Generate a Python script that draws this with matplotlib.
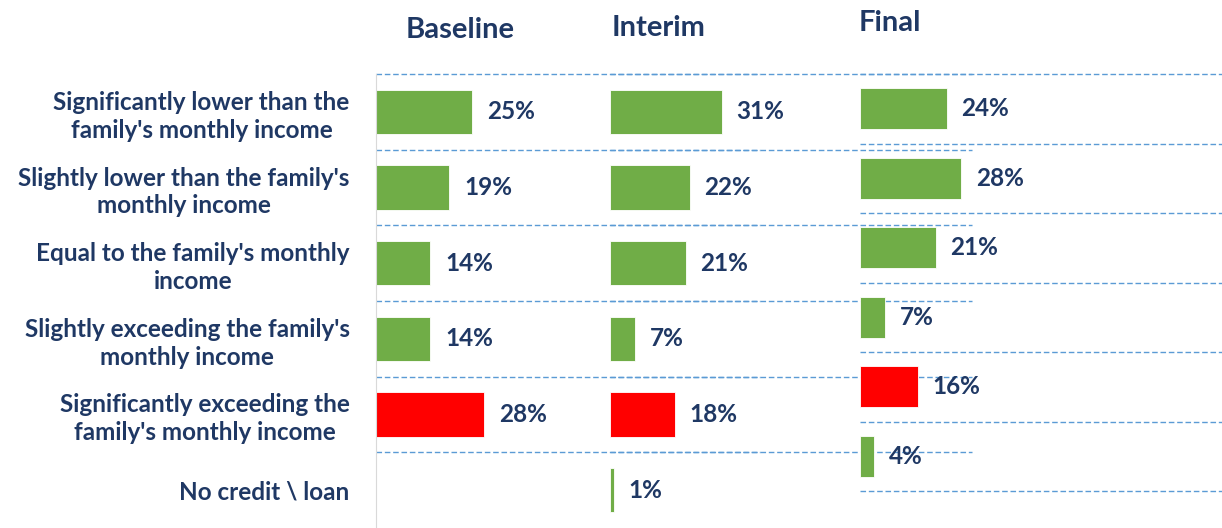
import numpy as np
import matplotlib.pyplot as plt

# Категорії та значення (у відсотках)
CATEGORIES = [
    "Significantly lower than the\nfamily's monthly income",
    "Slightly lower than the family's\nmonthly income",
    "Equal to the family's monthly\nincome",
    "Slightly exceeding the family's\nmonthly income",
    "Significantly exceeding the\nfamily's monthly income",
    "No credit \\ loan",
]
BASELINE = [25, 19, 14, 14, 28, np.nan]
INTERIM = [31, 22, 21, 7, 18, 1]
FINAL = [24, 28, 21, 7, 16, 4]
PANELS = ["Baseline", "Interim", "Final"]

GREEN = "#70AD47"
RED = "#FF0000"
NAVY = "#1F3864"
GRID = "#5B9BD5"

plt.rcParams["font.family"] = ["Lato", "DejaVu Sans"]

W, H = 1222, 528
fig = plt.figure(figsize=(W / 100, H / 100), dpi=100)


def px_axes(left, top, right, bottom):
    """Створює осі за піксельними координатами (відлік зверху)."""
    return fig.add_axes([left / W, 1 - bottom / H, (right - left) / W, (bottom - top) / H])


def draw_panel(ax, values, n_lines):
    colors = [RED if i == 4 else GREEN for i in range(len(values))]
    y = np.arange(len(values))
    ax.barh(y, values, height=0.59, color=colors, edgecolor="white", linewidth=0.6)
    for yi, v in zip(y, values):
        if np.isnan(v):
            continue
        ax.text(v + 4, yi, f"{v:.0f}%", va="center", ha="left",
                fontsize=17.5, fontweight="bold", color=NAVY)
    for k in range(n_lines):
        ax.axhline(k - 0.5, color=GRID, lw=1.0, linestyle=(0, (4, 2)),
                   zorder=0, clip_on=False)
    ax.set_xlim(0, 100)
    ax.set_ylim(5.5, -0.5)
    ax.set_xticks([])
    ax.set_yticks([])
    for s in ax.spines.values():
        s.set_visible(False)
    ax.patch.set_alpha(0)


ax_b = px_axes(376, 74, 760, 528)
ax_i = px_axes(610, 74, 972, 528)
ax_f = px_axes(860, 74, 1222, 491)

draw_panel(ax_b, BASELINE, 6)
draw_panel(ax_i, INTERIM, 6)
draw_panel(ax_f, FINAL, 7)

ax_b.spines["left"].set_visible(True)
ax_b.spines["left"].set_color("#D9D9D9")
ax_b.set_yticks(np.arange(len(CATEGORIES)))
ax_b.set_yticklabels(CATEGORIES, fontsize=17.5, fontweight="bold", color=NAVY,
                     multialignment="center", linespacing=1.25)
ax_b.tick_params(axis="y", length=0, pad=19)

# Заголовки панелей
for name, x, y in zip(PANELS, [460, 659, 890], [30, 28, 23]):
    fig.text(x / W, 1 - y / H, name, ha="center", va="center",
             fontsize=21, fontweight="bold", color=NAVY)

fig.savefig("out.png", dpi=100)
